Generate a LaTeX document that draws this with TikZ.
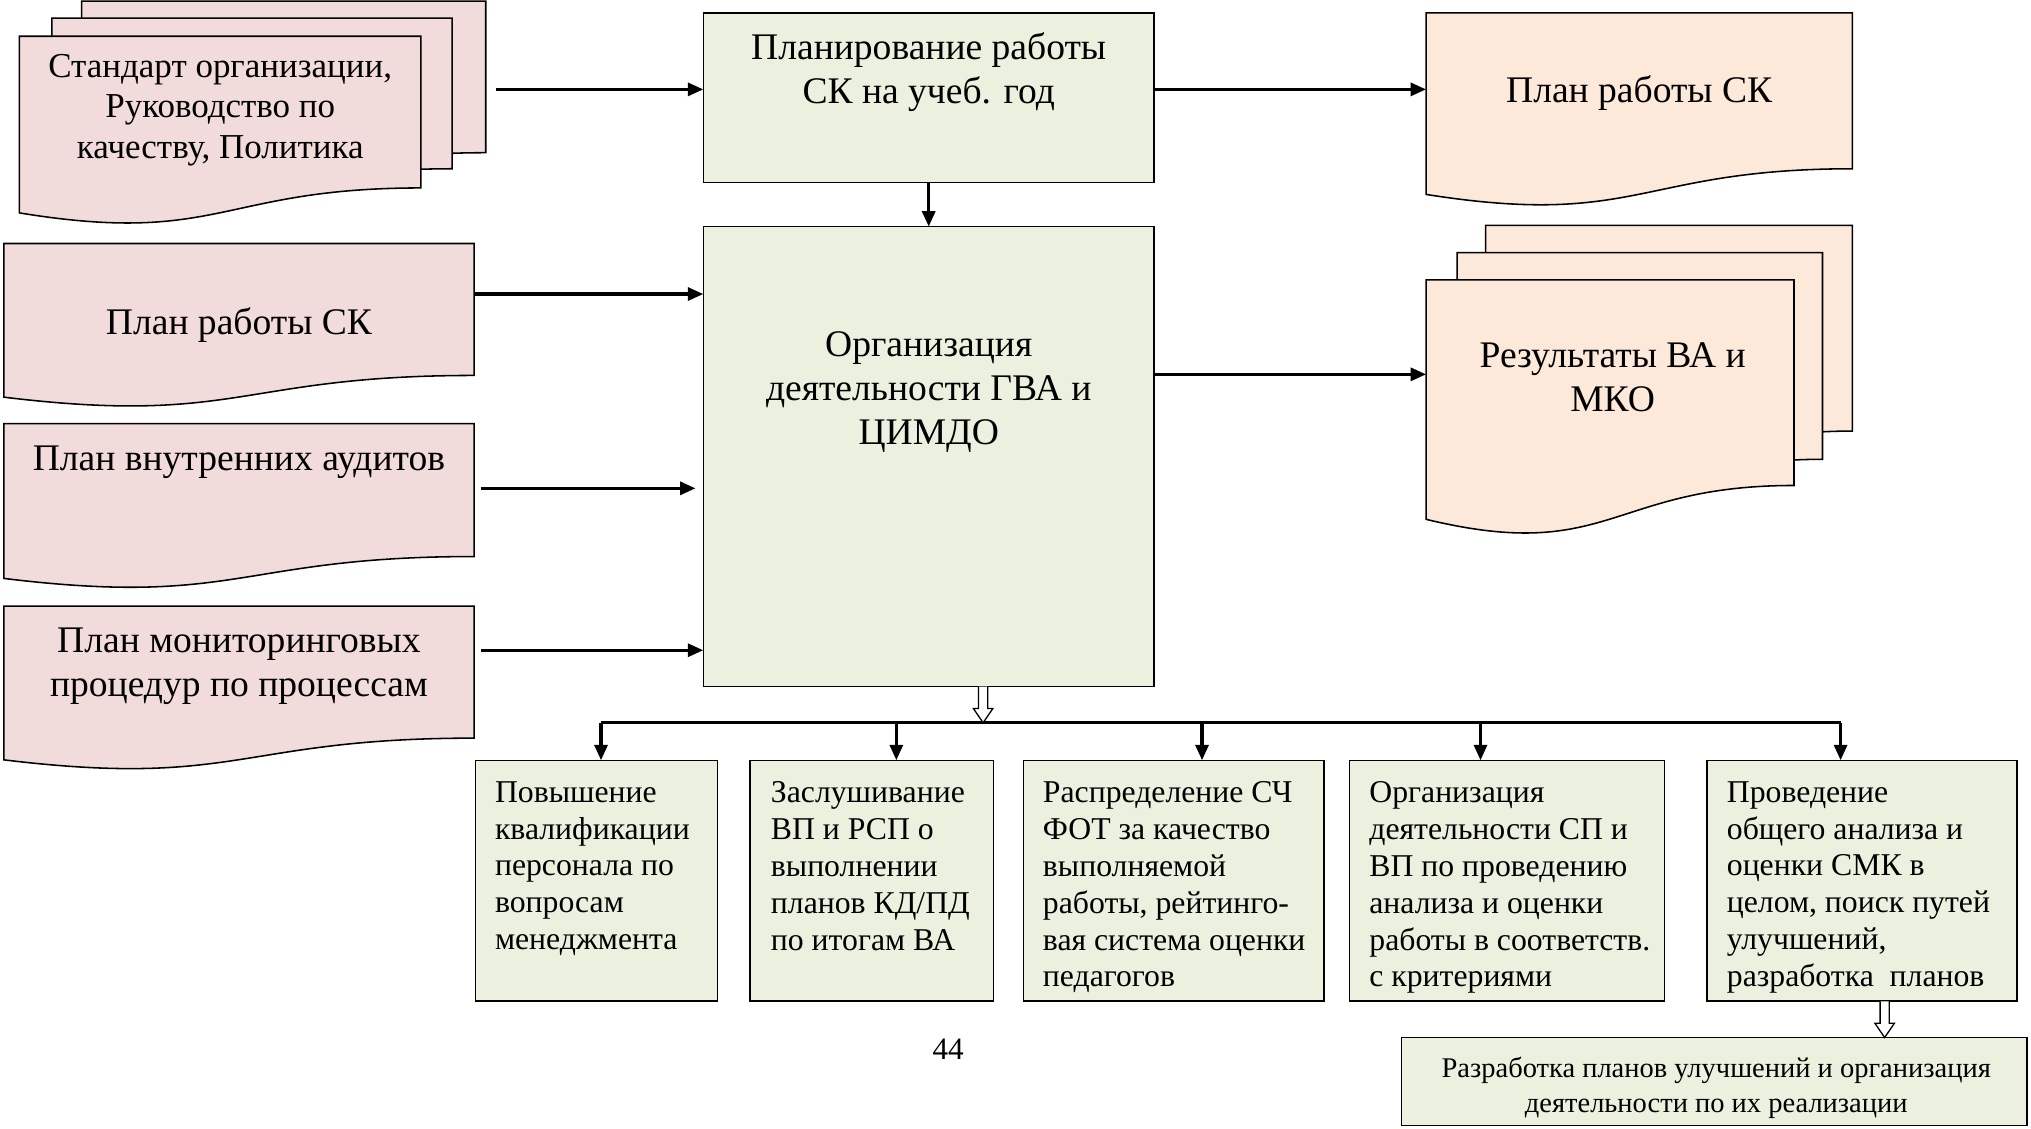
\documentclass[tikz,border=0pt]{standalone}
\usepackage{fontspec}
\setmainfont{Liberation Serif}
\usetikzlibrary{calc,arrows.meta}
\pgfdeclarelayer{background}
\pgfsetlayers{background,main}
\definecolor{pinkf}{HTML}{F2DCDB}
\definecolor{peachf}{HTML}{FDE9D9}
\definecolor{greenf}{HTML}{EBF1DE}
\newcommand\docshape[2]{%
  \begin{pgfonlayer}{background}
  \path[docline, fill=#2] let \p1=(#1.north west), \p2=(#1.south east), \n1={\y1-\y2} in
    (\p1) -- (\x2,\y1) -- (\x2,{\y2+0.198*\n1})
    .. controls ({0.5*\x1+0.5*\x2},{\y2+0.198*\n1}) and ({0.5*\x1+0.5*\x2},{\y2-0.1075*\n1}) .. (\x1,{\y2+0.066*\n1}) -- cycle;
  \end{pgfonlayer}}
\begin{document}
\begin{tikzpicture}[x=1pt,y=-1pt,
  docline/.style={draw=black, line width=1.2pt},
  docnode/.style={inner sep=0pt, outer sep=0pt},
  gbox/.style={draw=black, line width=1.2pt, fill=greenf, inner sep=0pt, outer sep=0pt},
  arr/.style={line width=2.6pt, -{Triangle[length=12pt,width=10pt]}},
  busline/.style={line width=2.6pt},
  hollow/.style={draw=black, line width=1pt, fill=white},
  big/.style={font=\fontsize{29}{34}\selectfont, align=center, inner sep=0pt},
  mid/.style={font=\fontsize{27}{31}\selectfont, align=center, inner sep=0pt},
  small/.style={font=\fontsize{24.5}{28.5}\selectfont, align=left, inner sep=0pt, anchor=north west},
  tiny/.style={font=\fontsize{22}{27}\selectfont, align=center, inner sep=0pt}
]
\useasboundingbox (0,0) rectangle (1568,871);

% ---------- left document stack
\node[docnode, minimum width=312pt, minimum height=146pt] (s1) at (219,73.8) {};
\node[docnode, minimum width=309pt, minimum height=145pt] (s2) at (194.5,86.5) {};
\node[docnode, minimum width=310pt, minimum height=146pt] (s3) at (170,101) {};
\docshape{s1}{pinkf}\docshape{s2}{pinkf}\docshape{s3}{pinkf}
\node[mid] (s3t) at (170,85) {Стандарт организации,\\Руководство по\\качеству, Политика};

% ---------- planning box
\node[gbox, minimum width=348pt, minimum height=131pt] (plan) at (717,75.5) {};
\node[big] (plant) at (717,55.5) {Планирование работы\\СК на учеб. год};

% ---------- output plan doc
\node[docnode, minimum width=329pt, minimum height=150pt] (op) at (1265.5,85) {};
\docshape{op}{peachf}
\node[big] (opt) at (1265.5,72) {План работы СК};

% ---------- left input docs
\node[docnode, minimum width=363pt, minimum height=127pt] (L1) at (184.5,251.5) {};
\node[docnode, minimum width=363pt, minimum height=128pt] (L2) at (184.5,391) {};
\node[docnode, minimum width=363pt, minimum height=127pt] (L3) at (184.5,531.5) {};
\docshape{L1}{pinkf}\docshape{L2}{pinkf}\docshape{L3}{pinkf}
\node[big] (L1t) at (184.5,251) {План работы СК};
\node[big] (L2t) at (184.5,357) {План внутренних аудитов};
\node[big] (L3t) at (184.5,514) {План мониторинговых\\процедур по процессам};

% ---------- main box
\node[gbox, minimum width=348pt, minimum height=355pt] (main) at (717,352.5) {};
\node[big] (maint) at (717,303) {Организация\\деятельности ГВА и\\ЦИМДО};

% ---------- results stack
\node[docnode, minimum width=283pt, minimum height=198pt] (r1) at (1288.5,273) {};
\node[docnode, minimum width=282pt, minimum height=199pt] (r2) at (1266,294.5) {};
\node[docnode, minimum width=284pt, minimum height=198pt] (r3) at (1243,315) {};
\docshape{r1}{peachf}\docshape{r2}{peachf}\docshape{r3}{peachf}
\node[big] (r3t) at (1245,291) {Результаты ВА и\\МКО};

% ---------- bottom boxes
\node[gbox, minimum width=187pt, minimum height=186pt] (b1) at (460.5,680) {};
\node[gbox, minimum width=188pt, minimum height=186pt] (b2) at (673,680) {};
\node[gbox, minimum width=232pt, minimum height=186pt] (b3) at (906,680) {};
\node[gbox, minimum width=243pt, minimum height=186pt] (b4) at (1163.5,680) {};
\node[gbox, minimum width=239pt, minimum height=186pt] (b5) at (1437.5,680) {};
\node[small] (b1t) at ($(b1.north west)+(15,16)$) {Повышение\\квалификации\\персонала по\\вопросам\\менеджмента};
\node[small] (b2t) at ($(b2.north west)+(16,16)$) {Заслушивание\\ВП и РСП о\\выполнении\\планов КД/ПД\\по итогам ВА};
\node[small] (b3t) at ($(b3.north west)+(15,16)$) {Распределение СЧ\\ФОТ за качество\\выполняемой\\работы, рейтинго-\\вая система оценки\\педагогов};
\node[small] (b4t) at ($(b4.north west)+(15,16)$) {Организация\\деятельности СП и\\ВП по проведению\\анализа и оценки\\работы в соответств.\\с критериями};
\node[small] (b5t) at ($(b5.north west)+(15,16)$) {Проведение\\общего анализа и\\оценки СМК в\\целом, поиск путей\\улучшений,\\разработка~~планов};

% ---------- final box
\node[gbox, minimum width=483pt, minimum height=68pt] (fb) at (1323.5,835) {};
\node[tiny] (fbt) at (1325,840) {Разработка планов улучшений и организация\\деятельности по их реализации};

% ---------- page number
\node[font=\fontsize{24}{28}\selectfont, inner sep=0pt] (pg) at (732,810) {44};

% ---------- connectors
\coordinate (a1) at (383,69);
\coordinate (y69) at (0,69);
\coordinate (y227) at (0,227);
\coordinate (a3) at (371,377);
\coordinate (a4) at (371,502);
\coordinate (y289) at (0,289);
\draw[arr] (a1) -- (a1 -| plan.west);
\draw[arr] (plan.east |- y69) -- (op.west |- y69);
\draw[arr] (plan) -- (main);
\draw[arr] (L1.east |- y227) -- (main.west |- y227);
\draw[arr, shorten >=6pt] (a3) -- (a3 -| main.west);
\draw[arr] (a4) -- (a4 -| main.west);
\draw[arr] (main.east |- y289) -- (r3.west |- y289);

% bus
\coordinate (bus1) at (464,558);
\coordinate (bus2) at (692,558);
\coordinate (bus3) at (928,558);
\coordinate (bus4) at (1143,558);
\coordinate (bus5) at (1421,558);
\draw[busline] (bus1) -- (bus5);
\draw[arr] (bus1) -- (bus1 |- b1.north);
\draw[arr] (bus2) -- (bus2 |- b2.north);
\draw[arr] (bus3) -- (bus3 |- b3.north);
\draw[arr] (bus4) -- (bus4 |- b4.north);
\draw[arr] (bus5) -- (bus5 |- b5.north);

% hollow arrows
\coordinate (hx1) at (759,0);
\coordinate (h1a) at (main.south -| hx1);
\coordinate (h1b) at (bus1 -| hx1);
\draw[hollow] ($(h1a)+(-3.5,0)$) -- ($(h1b)+(-3.5,-11)$) -- ($(h1b)+(-7.5,-11)$) -- (h1b) -- ($(h1b)+(7.5,-11)$) -- ($(h1b)+(3.5,-11)$) -- ($(h1a)+(3.5,0)$);
\coordinate (hx2) at (1455,0);
\coordinate (h2a) at (b5.south -| hx2);
\coordinate (h2b) at (fb.north -| hx2);
\draw[hollow] ($(h2a)+(-3.5,0)$) -- ($(h2b)+(-3.5,-11)$) -- ($(h2b)+(-7.5,-11)$) -- (h2b) -- ($(h2b)+(7.5,-11)$) -- ($(h2b)+(3.5,-11)$) -- ($(h2a)+(3.5,0)$);
\end{tikzpicture}
\end{document}
